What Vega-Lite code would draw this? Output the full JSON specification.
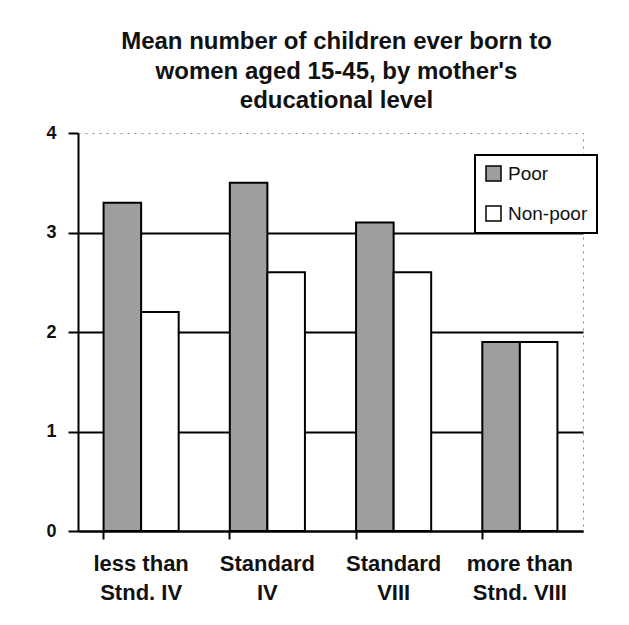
{
  "$schema": "https://vega.github.io/schema/vega-lite/v6.json",
  "width": 505,
  "height": 398,
  "autosize": {"type": "none"},
  "padding": {"left": 78, "top": 133, "right": 46, "bottom": 94},
  "background": "white",
  "title": {
    "text": ["Mean number of children ever born to", "women aged 15-45, by mother's", "educational level"],
    "font": "Liberation Sans",
    "fontSize": 24,
    "fontWeight": "bold",
    "color": "#111",
    "lineHeight": 29.5,
    "anchor": "middle",
    "dx": 6,
    "offset": 11
  },
  "data": {
    "values": [
      {"level": "less than Stnd. IV", "group": "Poor", "value": 3.3},
      {"level": "less than Stnd. IV", "group": "Non-poor", "value": 2.2},
      {"level": "Standard IV", "group": "Poor", "value": 3.5},
      {"level": "Standard IV", "group": "Non-poor", "value": 2.6},
      {"level": "Standard VIII", "group": "Poor", "value": 3.1},
      {"level": "Standard VIII", "group": "Non-poor", "value": 2.6},
      {"level": "more than Stnd. VIII", "group": "Poor", "value": 1.9},
      {"level": "more than Stnd. VIII", "group": "Non-poor", "value": 1.9}
    ]
  },
  "mark": {"type": "bar", "stroke": "black", "strokeWidth": 2, "opacity": 1},
  "encoding": {
    "x": {
      "field": "level",
      "type": "nominal",
      "sort": ["less than Stnd. IV", "Standard IV", "Standard VIII", "more than Stnd. VIII"],
      "scale": {"paddingInner": 0.405, "paddingOuter": 0.2025},
      "axis": {
        "title": null,
        "labelAngle": 0,
        "bandPosition": 0,
        "ticks": true,
        "tickSize": 8,
        "tickWidth": 2,
        "tickColor": "black",
        "domainColor": "black",
        "domainWidth": 2,
        "labelFont": "Liberation Sans",
        "labelFontSize": 22,
        "labelFontWeight": "bold",
        "labelColor": "#111",
        "labelPadding": 14,
        "labelLineHeight": 29,
        "labelBaseline": "top",
        "labelExpr": "{'less than Stnd. IV': ['less than', 'Stnd. IV'], 'Standard IV': ['Standard', 'IV'], 'Standard VIII': ['Standard', 'VIII'], 'more than Stnd. VIII': ['more than', 'Stnd. VIII']}[datum.label]"
      }
    },
    "xOffset": {
      "field": "group",
      "type": "nominal",
      "sort": ["Poor", "Non-poor"],
      "scale": {"paddingInner": 0, "paddingOuter": 0}
    },
    "y": {
      "field": "value",
      "type": "quantitative",
      "scale": {"domain": [0, 4], "nice": false},
      "axis": {
        "title": null,
        "values": [0, 1, 2, 3, 4],
        "format": "d",
        "grid": true,
        "gridColor": {"condition": {"test": "datum.value === 4", "value": "transparent"}, "value": "black"},
        "gridWidth": 2,
        "tickSize": 10,
        "tickWidth": 2,
        "tickColor": "black",
        "domainColor": "black",
        "domainWidth": 2,
        "labelFont": "Liberation Sans",
        "labelFontSize": 18,
        "labelFontWeight": "bold",
        "labelColor": "#111",
        "labelPadding": 12
      }
    },
    "fill": {
      "field": "group",
      "type": "nominal",
      "sort": ["Poor", "Non-poor"],
      "scale": {"domain": ["Poor", "Non-poor"], "range": ["#9e9e9e", "white"]},
      "legend": {
        "title": null,
        "orient": "none",
        "legendX": 397,
        "legendY": 22,
        "symbolType": "square",
        "symbolSize": 225,
        "symbolStrokeColor": "black",
        "symbolOpacity": 1,
        "labelFont": "Liberation Sans",
        "labelFontSize": 19,
        "labelColor": "#111",
        "labelOffset": 5,
        "rowPadding": 19,
        "padding": 9,
        "strokeColor": "black",
        "fillColor": "white",
        "encode": {
          "legend": {"update": {"strokeWidth": {"value": 2}}},
          "symbols": {"update": {"strokeWidth": {"value": 1.5}}}
        }
      }
    }
  },
  "config": {
    "view": {"stroke": "#888", "strokeDash": [2, 5], "strokeWidth": 1}
  }
}
